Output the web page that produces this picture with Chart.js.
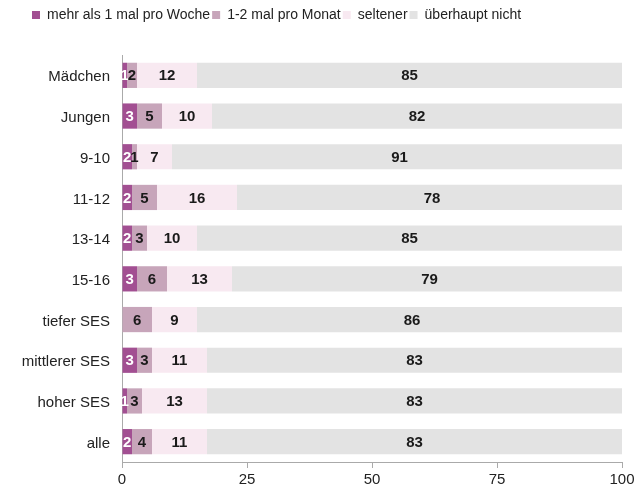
<!DOCTYPE html>
<html>
<head>
<meta charset="utf-8">
<script src="https://cdn.jsdelivr.net/npm/chart.js@4"></script>
<style>
  html, body { margin: 0; padding: 0; background: #fff; }
  #wrap { width: 636px; height: 492px; }
</style>
</head>
<body>
<div id="wrap"><canvas id="c"></canvas></div>
<script>
const categories = ['Mädchen', 'Jungen', '9-10', '11-12', '13-14', '15-16', 'tiefer SES', 'mittlerer SES', 'hoher SES', 'alle'];
const seriesNames = ['mehr als 1 mal pro Woche', '1-2 mal pro Monat', 'seltener', 'überhaupt nicht'];
const weekly    = [1, 3, 2, 2, 2, 3, 0, 3, 1, 2];
const monthly   = [2, 5, 1, 5, 3, 6, 6, 3, 3, 4];
const rarely    = [12, 10, 7, 16, 10, 13, 9, 11, 13, 11];
const never     = [85, 82, 91, 78, 85, 79, 86, 83, 83, 83];
const xTicks = [0, 25, 50, 75, 100];

const colors = ['#a24f92', '#c7a5ba', '#f8e9f1', '#e3e3e3'];
const labelColors = ['#ffffff', '#1a1a1a', '#1a1a1a', '#1a1a1a'];
const FONT = '"Liberation Sans", Arial, sans-serif';

// simple inline value labels, centered in each segment
const valueLabels = {
    id: 'valueLabels',
    afterDatasetsDraw(chart) {
        const ctx = chart.ctx;
        ctx.save();
        ctx.font = 'bold 15px ' + FONT;
        ctx.textAlign = 'center';
        ctx.textBaseline = 'middle';
        chart.data.datasets.forEach((ds, i) => {
            const meta = chart.getDatasetMeta(i);
            meta.data.forEach((bar, j) => {
                const v = ds.data[j];
                if (!v) return;
                const x = (bar.x + bar.base) / 2;
                ctx.fillStyle = labelColors[i];
                ctx.fillText(String(v), x, bar.y + 1);
            });
        });
        ctx.restore();
    }
};

// extra space under the legend, and push it right a bit
const legendGap = {
    id: 'legendGap',
    beforeInit(chart) {
        const fit = chart.legend.fit;
        chart.legend.fit = function () {
            fit.bind(chart.legend)();
            this.height += 23;
        };
    },
    afterLayout(chart) {
        chart.legend.left = 30;
    }
};

new Chart(document.getElementById('c'), {
    type: 'bar',
    data: {
        labels: categories,
        datasets: [weekly, monthly, rarely, never].map((d, i) => ({
            label: seriesNames[i],
            data: d,
            backgroundColor: colors[i],
            borderWidth: 0,
            barPercentage: 0.62,
            categoryPercentage: 1
        }))
    },
    options: {
        indexAxis: 'y',
        responsive: true,
        maintainAspectRatio: false,
        animation: false,
        layout: { padding: { left: 0, right: 0, top: 6, bottom: 0 } },
        plugins: {
            tooltip: { enabled: false },
            legend: {
                position: 'top',
                align: 'start',
                labels: {
                    boxWidth: 8,
                    boxHeight: 8,
                    padding: 2,
                    color: '#222',
                    font: { size: 14, family: FONT }
                }
            }
        },
        scales: {
            x: {
                stacked: true,
                min: 0,
                max: 100,
                afterBuildTicks: axis => { axis.ticks = xTicks.map(v => ({ value: v })); },
                afterFit: axis => { axis.paddingRight = 14; },
                grid: { display: true, drawOnChartArea: false, drawTicks: true, tickLength: 6, color: '#aaa' },
                border: { color: '#aaa', width: 1 },
                ticks: {
                    color: '#222',
                    padding: 3,
                    font: { size: 15, family: FONT }
                }
            },
            y: {
                stacked: true,
                afterFit: axis => { axis.width = 122; },
                grid: { display: false, drawTicks: false },
                border: { color: '#aaa', width: 1 },
                ticks: {
                    color: '#222',
                    padding: 12,
                    labelOffset: 2,
                    font: { size: 15, family: FONT }
                }
            }
        }
    },
    plugins: [valueLabels, legendGap]
});
</script>
</body>
</html>
